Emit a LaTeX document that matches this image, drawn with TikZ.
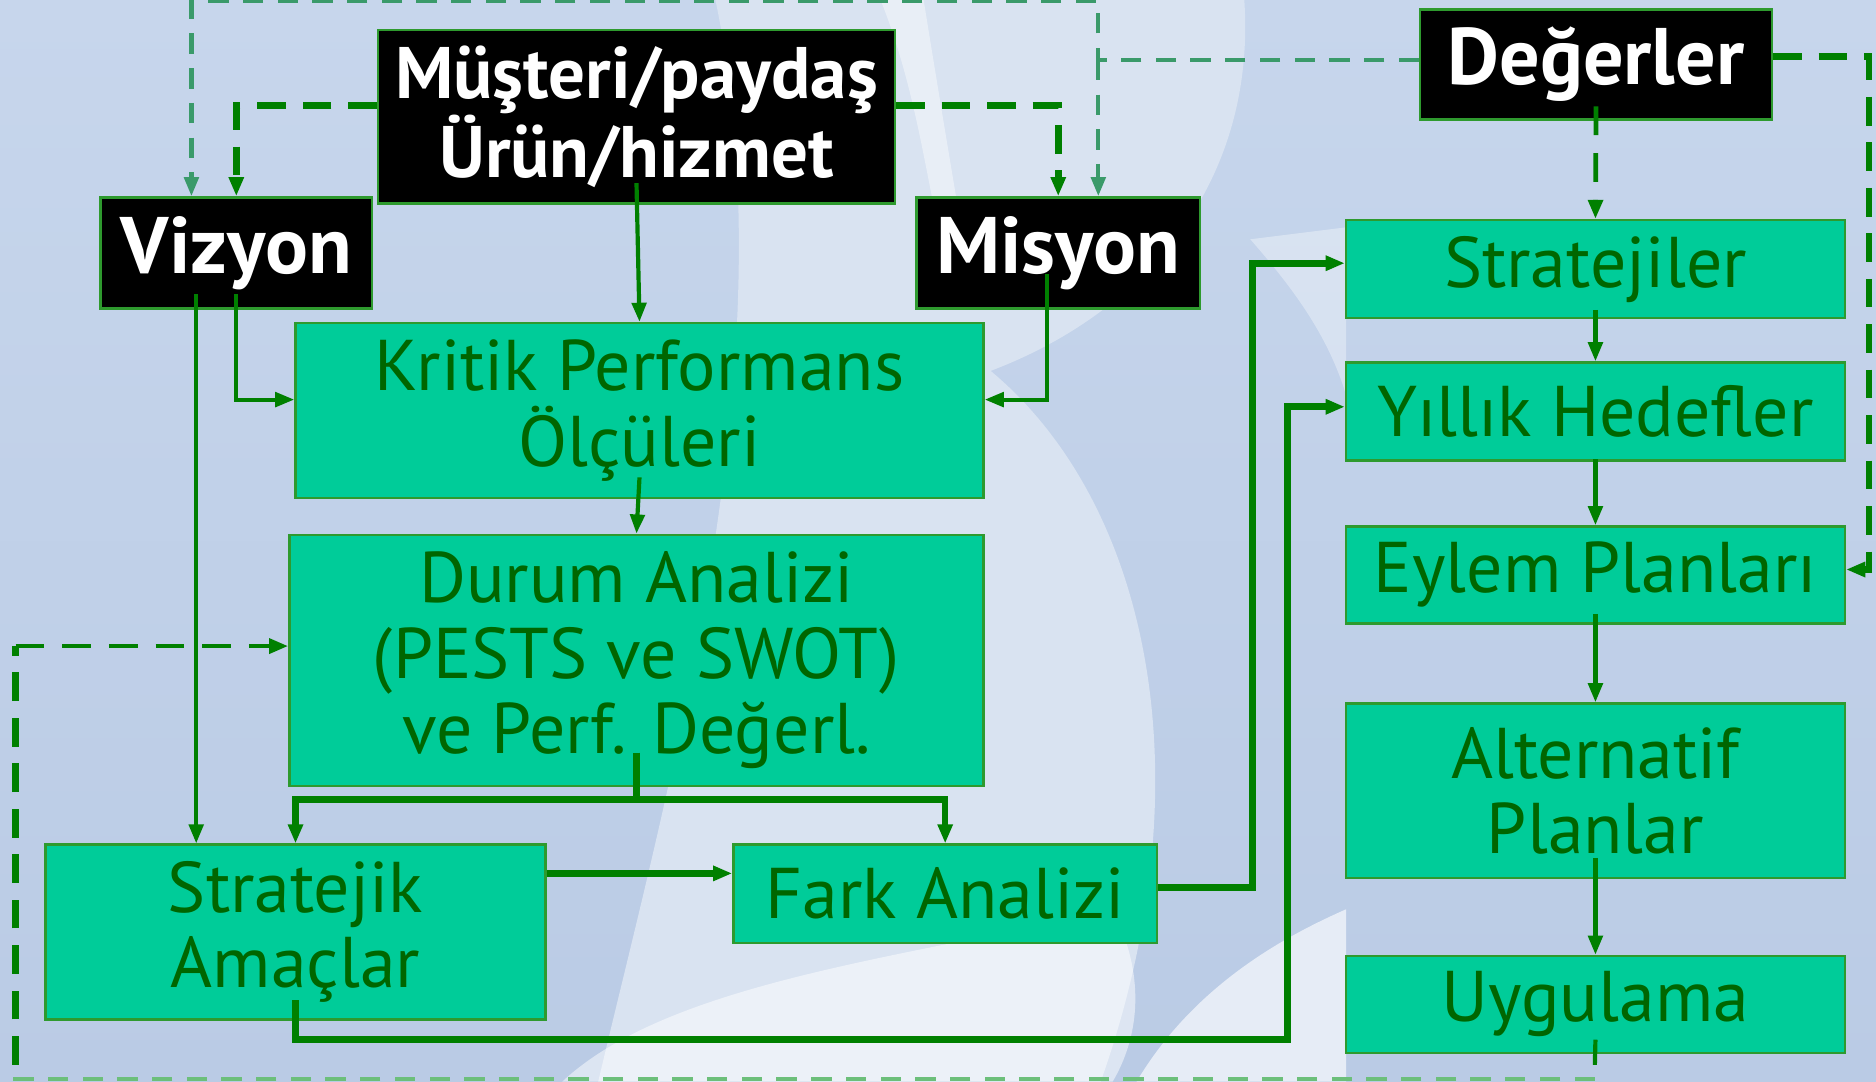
\documentclass[tikz,border=0pt]{standalone}
\usepackage{fontspec}
\setmainfont{PT Sans}
\usetikzlibrary{arrows.meta,calc}

\definecolor{bgtop}{HTML}{C7D6EC}
\definecolor{bgbottom}{HTML}{BACBE5}
\definecolor{bglight}{HTML}{D9E3F1}
\definecolor{bgpale}{HTML}{E6ECF6}
\definecolor{boxfill}{HTML}{00CC99}
\definecolor{boxedge}{HTML}{2E9A2E}
\definecolor{txtgreen}{HTML}{006600}
\definecolor{linegreen}{HTML}{008000}
\definecolor{dashlight}{HTML}{3A9A6A}
\definecolor{dashpale}{HTML}{6CBF7A}

\tikzset{
  tip/.style={-{Triangle[length=16pt,width=12pt]}},
  greenbox/.style={draw=boxedge, line width=2pt, fill=boxfill, text=txtgreen,
    inner sep=0pt, align=center, font=\fontsize{60}{63}\selectfont},
  blackbox/.style={draw=boxedge, line width=2pt, fill=black, text=white,
    inner sep=0pt, align=center, font=\fontsize{67}{62}\bfseries\selectfont},
  thinline/.style={draw=linegreen, line width=3.5pt},
  thickline/.style={draw=linegreen, line width=5.5pt},
  thinarr/.style={thinline, tip},
  thickarr/.style={thickline, tip},
  darkdashline/.style={draw=linegreen, line width=5.5pt, dash pattern=on 24pt off 14pt},
  darkdash/.style={darkdashline, tip},
  darkdashthin/.style={draw=linegreen, line width=4pt, dash pattern=on 24pt off 15pt, tip},
  lightdash/.style={draw=dashlight, line width=3.5pt, dash pattern=on 17pt off 12pt},
  lightdasharr/.style={lightdash, tip},
}

\begin{document}
\begin{tikzpicture}[x=1pt,y=-1pt]
  % backdrop with a soft wave
  \useasboundingbox (0,0) rectangle (1568,904);
  \shade[top color=bgtop, bottom color=bgbottom] (0,0) rectangle (1568,904);
  \fill[bglight] (598,0) -- (1040,0) .. controls (1050,150) and (960,260) .. (828,310)
     .. controls (960,420) and (1010,650) .. (920,904)
     -- (500,904) .. controls (560,650) and (660,300) .. (598,0) -- cycle;
  \fill[white, opacity=0.5] (470,904) .. controls (560,820) and (760,800) .. (930,760)
     .. controls (960,820) and (950,870) .. (930,904) -- cycle;
  \fill[bgpale] (950,904) .. controls (1000,820) and (1080,780) .. (1125,760)
     -- (1125,904) -- cycle;
  \fill[white, opacity=0.35] (1045,200) .. controls (1080,240) and (1110,280) .. (1125,330)
     -- (1125,190) -- cycle;
  \fill[white, opacity=0.4] (736,0) .. controls (760,60) and (770,120) .. (780,170)
     -- (800,170) .. controls (790,110) and (780,50) .. (772,0) -- cycle;

  % black boxes
  \node[blackbox, font=\fontsize{61}{62}\bfseries\selectfont,
        minimum width=432pt, minimum height=145pt] (must) at (532,97.5)
    {Müşteri/paydaş\\Ürün/hizmet};
  \node[blackbox, minimum width=227pt, minimum height=93pt] (viz) at (197.5,211.5) {Vizyon};
  \node[blackbox, minimum width=237pt, minimum height=93pt] (mis) at (884.5,211.5) {Misyon};
  \node[blackbox, minimum width=294pt, minimum height=92pt] (deg) at (1334,54) {Değerler};

  % green boxes
  \node[greenbox, minimum width=575pt, minimum height=146pt] (kpo) at (534.5,343)
    {Kritik Performans\\Ölçüleri};
  \node[greenbox, minimum width=580pt, minimum height=210pt] (dur) at (532,552)
    {Durum Analizi\\(PESTS ve SWOT)\\ve Perf. Değerl.};
  \node[greenbox, minimum width=418pt, minimum height=146pt] (sam) at (247,779)
    {Stratejik\\Amaçlar};
  \node[greenbox, minimum width=354pt, minimum height=82pt] (fark) at (790,747) {Fark Analizi};
  \node[greenbox, minimum width=417pt, minimum height=82pt] (str) at (1333.5,225) {Stratejiler};
  \node[greenbox, minimum width=417pt, minimum height=82pt] (yil) at (1333.5,344) {Yıllık Hedefler};
  \node[greenbox, minimum width=417pt, minimum height=81pt] (eyl) at (1333.5,480.5) {Eylem Planları};
  \node[greenbox, minimum width=417pt, minimum height=146pt] (alt) at (1333.5,661)
    {Alternatif\\Planlar};
  \node[greenbox, minimum width=417pt, minimum height=81pt] (uyg) at (1333.5,839.5) {Uygulama};

  % corner points of the routed links
  \coordinate (jn) at (532,668);
  \coordinate (lowrun) at (1076,869);
  \coordinate (topjoin) at (918,50);
  \coordinate (toprun) at (918,1);
  \coordinate (rightrun) at (1562,476);
  \coordinate (leftrun) at (13,890);
  \coordinate (bottomend) at (1333,890);
  \coordinate (bottomleft) at (0,902);

  % solid links
  \draw[thinarr] ([yshift=18pt]must.south) -- (kpo.north);
  \draw[thinarr] ([yshift=13pt]viz.south) |- ([yshift=9pt]kpo.west);
  \draw[thinarr] ([xshift=-33.5pt,yshift=13pt]viz.south) -- ([xshift=-33.5pt]viz.south |- sam.north);
  \draw[thinarr] ([xshift=-9.5pt,yshift=30pt]mis.south) |- ([yshift=9pt]kpo.east);
  \draw[thinarr] ([yshift=18pt]kpo.south) -- (dur.north);
  \draw[thickline] ([yshift=29pt]dur.south) -- (jn);
  \draw[thickarr] (jn) -| (sam.north);
  \draw[thickarr] (jn) -| (fark.north);
  \draw[thickarr] ([yshift=49pt]sam.east) -- ([yshift=49pt]sam.east -| fark.west);
  \draw[thickarr] ([yshift=5pt]fark.east) -- ++(79,0) |- ([yshift=5pt]str.west);
  \draw[thickarr] ([yshift=17pt]sam.south) |- (lowrun) |- ([yshift=4pt]yil.west);
  \draw[thinarr] ([yshift=8pt]str.south) -- (yil.north);
  \draw[thinarr] ([yshift=2pt]yil.south) -- (eyl.north);
  \draw[thinarr] ([yshift=9pt]eyl.south) -- (alt.north);
  \draw[thinarr] ([yshift=18pt]alt.south) -- (uyg.north);
  \draw[thinline] ([yshift=12pt]uyg.south) -- (bottomend);

  % dashed links
  \draw[darkdash] ([yshift=9.5pt]must.west) -| (viz.north);
  \draw[darkdash] ([yshift=9.5pt]must.east) -| (mis.north);
  \draw[darkdash] ([yshift=7pt]deg.east) -| (rightrun) -- ([yshift=4.5pt]eyl.east);
  \draw[darkdashthin] ([yshift=12pt]deg.south) -- (str.north);
  \draw[darkdashline] (leftrun) -- ([yshift=12pt]dur.west -| leftrun);
  \draw[darkdashthin] ([yshift=12pt]dur.west -| leftrun) -- ([yshift=12pt]dur.west);
  \draw[lightdasharr] ([yshift=4pt]deg.west) -| (toprun) -| ([xshift=-37.5pt]viz.north);
  \draw[lightdasharr] (topjoin) -- ([xshift=33.5pt]mis.north);
  \draw[draw=dashpale, line width=3.5pt, dash pattern=on 17pt off 12pt] (bottomend |- bottomleft) -- (bottomleft);
\end{tikzpicture}
\end{document}
